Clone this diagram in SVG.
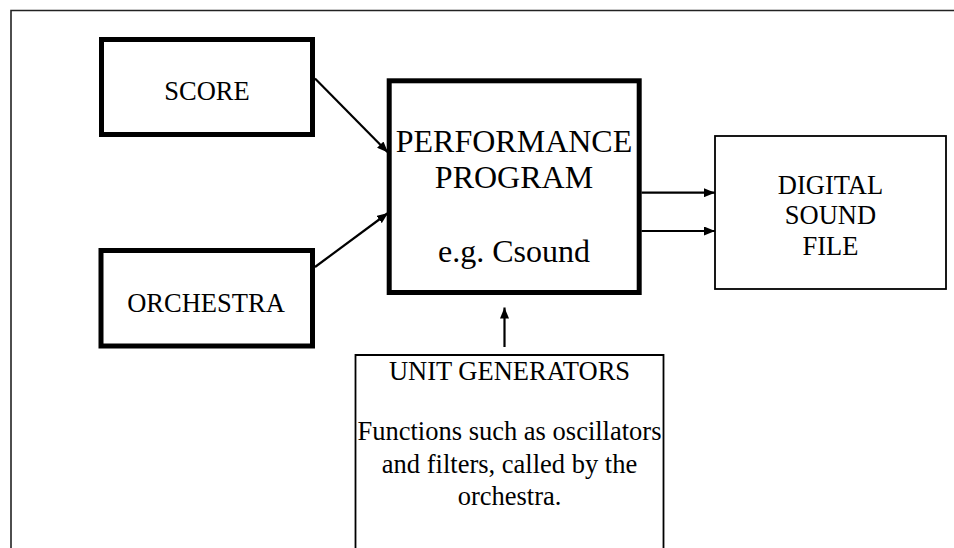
<svg xmlns="http://www.w3.org/2000/svg" width="954" height="548" viewBox="0 0 954 548">
  <defs>
    <style>
      .t { font-family: "Liberation Serif", "Times New Roman", serif; fill: #000; text-anchor: middle; }
      .thick { fill: #fff; stroke: #000; stroke-width: 5; }
      .thin { fill: #fff; stroke: #000; stroke-width: 1.8; }
      .conn { stroke: #000; stroke-width: 2.2; fill: none; marker-end: url(#ah); }
    </style>
    <marker id="ah" viewBox="0 0 11 9" refX="11" refY="4.5" markerWidth="11" markerHeight="9" markerUnits="userSpaceOnUse" orient="auto">
      <path d="M0,0 L11,4.5 L0,9 Z" fill="#000"/>
    </marker>
  </defs>
  <rect width="954" height="548" fill="#fff"/>
  <path d="M11,548 V10.5 H954" fill="none" stroke="#222" stroke-width="1.6"/>

  <g id="score">
    <rect class="thick" x="101.5" y="39.5" width="211" height="95"/>
    <text class="t" x="207" y="100" font-size="26.5">SCORE</text>
  </g>
  <g id="orchestra">
    <rect class="thick" x="101" y="250.5" width="211.5" height="95.5"/>
    <text class="t" x="206" y="311.5" font-size="26.5">ORCHESTRA</text>
  </g>
  <g id="performance">
    <rect class="thick" x="389.2" y="80.8" width="250" height="211.7"/>
    <text class="t" x="514" y="151.7" font-size="32">PERFORMANCE</text>
    <text class="t" x="514" y="188.3" font-size="32">PROGRAM</text>
    <text class="t" x="514" y="261.7" font-size="32">e.g. Csound</text>
  </g>
  <g id="digital">
    <rect class="thin" x="715" y="136" width="231" height="153"/>
    <text class="t" x="830.5" y="194" font-size="26.5">DIGITAL</text>
    <text class="t" x="830.5" y="224" font-size="26.5">SOUND</text>
    <text class="t" x="830.5" y="255" font-size="26.5">FILE</text>
  </g>
  <g id="unitgen">
    <path class="thin" d="M355.5,552 V355 H663.5 V552"/>
    <text class="t" x="509.5" y="380" font-size="26.5">UNIT GENERATORS</text>
    <text class="t" x="509.5" y="440" font-size="26.5">Functions such as oscillators</text>
    <text class="t" x="509.5" y="473" font-size="26.5">and filters, called by the</text>
    <text class="t" x="509.5" y="505" font-size="26.5">orchestra.</text>
  </g>

  <g id="connectors">
    <line class="conn" x1="315" y1="78.5" x2="388" y2="152.5"/>
    <line class="conn" x1="315" y1="267" x2="388" y2="213"/>
    <line class="conn" x1="641.5" y1="192.7" x2="715" y2="192.7"/>
    <line class="conn" x1="641.5" y1="231" x2="715" y2="231"/>
    <line class="conn" x1="504.5" y1="347" x2="504.5" y2="307.5"/>
  </g>
</svg>
